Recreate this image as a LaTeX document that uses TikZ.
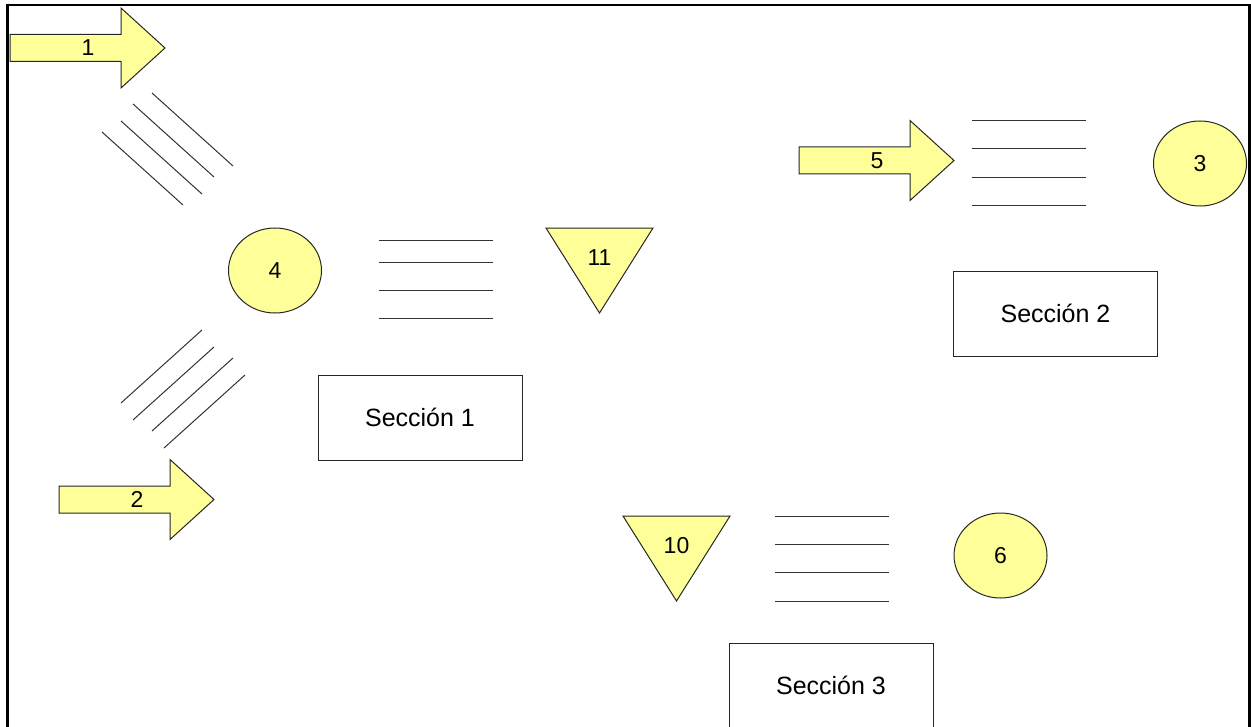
\documentclass[tikz,border=0pt]{standalone}
\usepackage{fontspec}
\setmainfont{Liberation Sans}
\usepackage{xcolor}
\definecolor{pale}{RGB}{255,255,153}
\usetikzlibrary{shapes.geometric}

\begin{document}
\begin{tikzpicture}[x=0.5pt, y=-0.5pt, font=\fontsize{11.5}{13}\selectfont,
  symbol/.style={draw=black!85, fill=pale, line width=0.5pt},
  stock/.style={symbol, ellipse, minimum width=46.5pt, minimum height=42.5pt, inner sep=0pt},
  section/.style={draw=black!85, line width=0.5pt, minimum width=102pt, minimum height=42.5pt,
    font=\fontsize{12.5}{14}\selectfont},
  hatch/.style={black!80, line width=0.5pt}]
\useasboundingbox (0,0) rectangle (1251,727);
\clip (0,0) rectangle (1251,727);
\draw[line width=1.2pt] (7.5,727) -- (7.5,5) -- (1249.5,5) -- (1249.5,727);

% flow arrows
\foreach \x/\y/\n in {10/48/1, 59/499.5/2, 799/160.5/5} {
  \draw[symbol] (\x,\y-13.5) -- ++(111,0) -- ++(0,-26.5) -- (\x+155,\y)
    -- (\x+111,\y+40) -- ++(0,-26.5) -- (\x,\y+13.5) -- cycle;
  \node (flow\n) at (\x+78,\y) {\n};
}

% inventories
\foreach \x/\y/\n in {599.5/228/11, 676.5/516/10} {
  \draw[symbol] (\x-53.5,\y) -- (\x+53.5,\y) -- (\x,\y+85) -- cycle;
  \node (inv\n) at (\x,\y+30) {\n};
}

% stores
\node[stock] (store4) at (275,270.5) {4};
\node[stock] (store3) at (1200,163.5) {3};
\node[stock] (store6) at (1000.5,555.5) {6};

% line bundles
\foreach \y in {240,262,290,318} \draw[hatch] (379,\y) -- (493,\y);
\foreach \y in {121,149,178,206} \draw[hatch] (972,\y) -- (1086,\y);
\foreach \y in {516,544,572,601} \draw[hatch] (775,\y) -- (889,\y);
\foreach \a/\b in {152/93, 133/104, 121/121, 102/132} \draw[hatch] (\a,\b) -- ++(81,73);
\foreach \a/\b in {202/330, 214/347, 233/358, 245/375} \draw[hatch] (\a,\b) -- ++(-81,73);

% sections
\node[section] (sec1) at (420,417.5) {Sección 1};
\node[section] (sec2) at (1055.5,313.5) {Sección 2};
\node[section] (sec3) at (831,685.5) {Sección 3};
\end{tikzpicture}
\end{document}
